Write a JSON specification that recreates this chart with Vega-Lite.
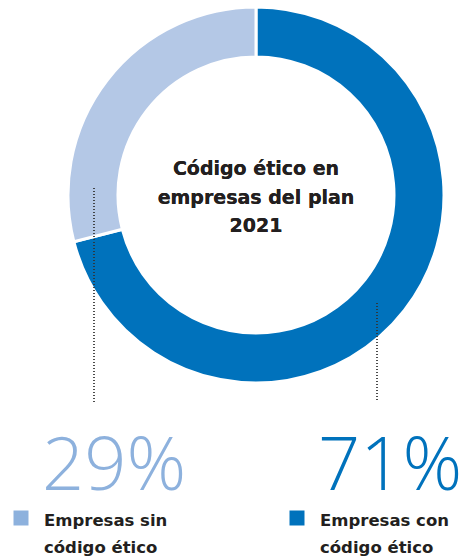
{
  "$schema": "https://vega.github.io/schema/vega-lite/v6.json",
  "width": 467,
  "height": 559,
  "autosize": "none",
  "padding": 0,
  "background": "white",
  "config": {"view": {"stroke": null}, "font": "DejaVu Sans"},
  "data": {"values": [
    {"category": "Empresas con\ncódigo ético", "value": 0.71},
    {"category": "Empresas sin\ncódigo ético", "value": 0.29}
  ]},
  "resolve": {"scale": {"x": "independent", "y": "independent", "color": "independent"}},
  "layer": [
    {
      "mark": {"type": "arc", "outerRadius": 188, "innerRadius": 138, "stroke": "white", "strokeWidth": 3},
      "encoding": {
        "x": {"datum": 256, "type": "quantitative", "scale": {"domain": [0, 467], "range": [0, 467]}, "axis": null},
        "y": {"datum": 195, "type": "quantitative", "scale": {"domain": [0, 559], "range": [0, 559]}, "axis": null},
        "theta": {"field": "value", "type": "quantitative", "stack": true},
        "order": {"field": "value", "sort": "descending"},
        "color": {"field": "category", "type": "nominal", "legend": null,
          "scale": {"domain": ["Empresas sin\ncódigo ético", "Empresas con\ncódigo ético"], "range": ["#B4C8E6", "#0072BC"]}}
      }
    },
    {
      "mark": {"type": "text", "lineBreak": "\n", "font": "DejaVu Sans", "fontSize": 19, "fontWeight": "bold", "color": "#231F20", "lineHeight": 28.5, "align": "center", "baseline": "alphabetic"},
      "encoding": {
        "x": {"datum": 256, "type": "quantitative", "scale": {"domain": [0, 467], "range": [0, 467]}, "axis": null},
        "y": {"datum": 175, "type": "quantitative", "scale": {"domain": [0, 559], "range": [0, 559]}, "axis": null},
        "text": {"datum": "Código ético en\nempresas del plan\n2021"}
      }
    },
    {
      "mark": {"type": "rule", "strokeDash": [1, 2], "strokeWidth": 1.3, "color": "#333333"},
      "encoding": {
        "x": {"datum": 94, "type": "quantitative", "scale": {"domain": [0, 467], "range": [0, 467]}, "axis": null},
        "y": {"datum": 188, "type": "quantitative", "scale": {"domain": [0, 559], "range": [0, 559]}, "axis": null},
        "y2": {"datum": 402}
      }
    },
    {
      "mark": {"type": "rule", "strokeDash": [1, 2], "strokeWidth": 1.3, "color": "#333333"},
      "encoding": {
        "x": {"datum": 377, "type": "quantitative", "scale": {"domain": [0, 467], "range": [0, 467]}, "axis": null},
        "y": {"datum": 303, "type": "quantitative", "scale": {"domain": [0, 559], "range": [0, 559]}, "axis": null},
        "y2": {"datum": 402}
      }
    },
    {
      "mark": {"type": "text", "font": "Open Sans", "fontSize": 74, "fontWeight": 300, "align": "left", "baseline": "alphabetic"},
      "encoding": {
        "x": {"field": "category", "type": "nominal", "axis": null,
          "scale": {"type": "point", "padding": 0, "domain": ["Empresas sin\ncódigo ético", "Empresas con\ncódigo ético"], "range": [42, 318]}},
        "y": {"datum": 490, "type": "quantitative", "scale": {"domain": [0, 559], "range": [0, 559]}, "axis": null},
        "text": {"field": "value", "type": "quantitative", "format": ".0%"},
        "color": {"field": "category", "type": "nominal", "legend": null,
          "scale": {"domain": ["Empresas sin\ncódigo ético", "Empresas con\ncódigo ético"], "range": ["#8DB1DD", "#0072BC"]}}
      }
    },
    {
      "mark": {"type": "point", "shape": "square", "filled": true, "size": 225, "opacity": 1},
      "encoding": {
        "x": {"field": "category", "type": "nominal", "axis": null,
          "scale": {"type": "point", "padding": 0, "domain": ["Empresas sin\ncódigo ético", "Empresas con\ncódigo ético"], "range": [21, 297]}},
        "y": {"datum": 518, "type": "quantitative", "scale": {"domain": [0, 559], "range": [0, 559]}, "axis": null},
        "color": {"field": "category", "type": "nominal", "legend": null,
          "scale": {"domain": ["Empresas sin\ncódigo ético", "Empresas con\ncódigo ético"], "range": ["#8DB1DD", "#0072BC"]}}
      }
    },
    {
      "mark": {"type": "text", "lineBreak": "\n", "font": "DejaVu Sans", "fontSize": 16.5, "fontWeight": "bold", "color": "#231F20", "lineHeight": 26.5, "align": "left", "baseline": "alphabetic"},
      "encoding": {
        "x": {"field": "category", "type": "nominal", "axis": null,
          "scale": {"type": "point", "padding": 0, "domain": ["Empresas sin\ncódigo ético", "Empresas con\ncódigo ético"], "range": [44, 320]}},
        "y": {"datum": 526, "type": "quantitative", "scale": {"domain": [0, 559], "range": [0, 559]}, "axis": null},
        "text": {"field": "category", "type": "nominal"}
      }
    }
  ]
}
